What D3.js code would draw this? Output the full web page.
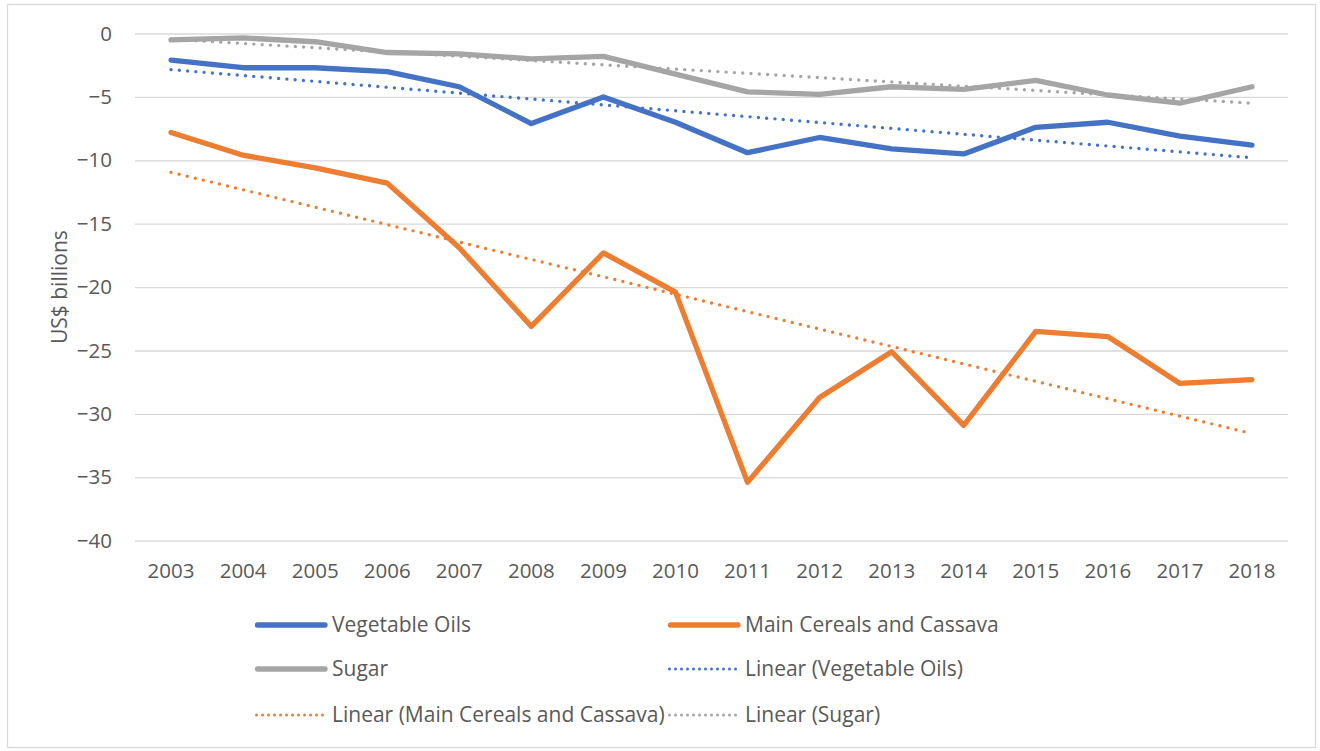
<!DOCTYPE html>
<html>
<head>
<meta charset="utf-8">
<script src="https://cdn.jsdelivr.net/npm/d3@7"></script>
<style>
  body { margin: 0; background: #fff; }
  svg text { font-family: "Open Sans", "Noto Sans", sans-serif; fill: #595959; }
</style>
</head>
<body>
<div id="chart"></div>
<script>
// values (US$ billions)
const years = ["2003", "2004", "2005", "2006", "2007", "2008", "2009", "2010",
               "2011", "2012", "2013", "2014", "2015", "2016", "2017", "2018"];
const vegetableOils = [-2.1, -2.7, -2.7, -3.0, -4.2, -7.1, -5.0, -7.0,
                       -9.4, -8.2, -9.1, -9.5, -7.4, -7.0, -8.1, -8.8];
const mainCereals = [-7.8, -9.6, -10.6, -11.8, -16.9, -23.1, -17.3, -20.4,
                     -35.4, -28.7, -25.1, -30.9, -23.5, -23.9, -27.6, -27.3];
const sugar = [-0.5, -0.35, -0.65, -1.5, -1.6, -2.0, -1.8, -3.2,
               -4.6, -4.8, -4.2, -4.4, -3.7, -4.85, -5.5, -4.2];
// trend line ends (2003, 2018)
const trendVegetableOils = [-2.85, -9.8];
const trendMainCereals = [-10.95, -31.55];
const trendSugar = [-0.45, -5.5];
const yTicks = [0, -5, -10, -15, -20, -25, -30, -35, -40];

const W = 1320, H = 751;
const margin = { top: 33.5, left: 135, right: 32, bottom: 210 };
const plotW = 1288 - margin.left;
const plotH = 540.7 - margin.top;

const blue = "#4472C4", orange = "#ED7D31", gray = "#A5A5A5";

const svg = d3.select("#chart").append("svg")
  .attr("width", W)
  .attr("height", H);

svg.append("rect")
  .attr("x", 7.5).attr("y", 4.5)
  .attr("width", 1308).attr("height", 743)
  .attr("fill", "#fff")
  .attr("stroke", "#D9D9D9")
  .attr("stroke-width", 1.3);

const chart = svg.append("g")
  .attr("transform", `translate(${margin.left}, ${margin.top})`);

const xScale = d3.scaleBand().domain(years).range([0, plotW]);
const yScale = d3.scaleLinear().domain([0, -40]).range([0, plotH]);
const xc = d => xScale(d) + xScale.bandwidth() / 2;

// gridlines + y labels
const yAxis = chart.append("g")
  .attr("class", "axis-y")
  .call(d3.axisLeft(yScale).tickValues(yTicks).tickSize(-plotW).tickPadding(23).tickFormat(d3.format("d")));
yAxis.select(".domain").remove();
yAxis.selectAll(".tick line").attr("stroke", "#D9D9D9").attr("stroke-width", 1.3);
yAxis.selectAll(".tick text").attr("font-size", 20.5).attr("fill", "#595959");

const xAxis = chart.append("g")
  .attr("class", "axis-x")
  .attr("transform", `translate(0, ${plotH})`)
  .call(d3.axisBottom(xScale).tickSize(0).tickPadding(23));
xAxis.select(".domain").remove();
xAxis.selectAll(".tick text").attr("font-size", 20.5).attr("fill", "#595959");

svg.append("text")
  .attr("text-anchor", "middle")
  .attr("transform", `translate(67, ${margin.top + plotH / 2}) rotate(-90)`)
  .attr("font-size", 21)
  .text("US$ billions");

const line = d3.line().x((d, i) => xc(years[i])).y(d => yScale(d));
const trendLine = d3.line().x(d => xc(d[0])).y(d => yScale(d[1]));

const series = [
  { name: "Vegetable Oils", values: vegetableOils, color: blue },
  { name: "Main Cereals and Cassava", values: mainCereals, color: orange },
  { name: "Sugar", values: sugar, color: gray }
];
const trends = [
  { name: "Linear (Vegetable Oils)", ends: trendVegetableOils, color: blue },
  { name: "Linear (Main Cereals and Cassava)", ends: trendMainCereals, color: orange },
  { name: "Linear (Sugar)", ends: trendSugar, color: gray }
];

series.forEach(s => {
  chart.append("path")
    .datum(s.values)
    .attr("fill", "none")
    .attr("stroke", s.color)
    .attr("stroke-width", 5.3)
    .attr("stroke-linejoin", "round")
    .attr("stroke-linecap", "round")
    .attr("d", line);
});

trends.forEach(t => {
  chart.append("path")
    .datum([[years[0], t.ends[0]], [years[years.length - 1], t.ends[1]]])
    .attr("fill", "none")
    .attr("stroke", t.color)
    .attr("stroke-width", 3.4)
    .attr("stroke-linecap", "round")
    .attr("stroke-dasharray", "0 8.3")
    .attr("d", trendLine);
});

// legend
const legendItems = [
  { label: "Vegetable Oils", color: blue, dotted: false },
  { label: "Main Cereals and Cassava", color: orange, dotted: false },
  { label: "Sugar", color: gray, dotted: false },
  { label: "Linear (Vegetable Oils)", color: blue, dotted: true },
  { label: "Linear (Main Cereals and Cassava)", color: orange, dotted: true },
  { label: "Linear (Sugar)", color: gray, dotted: true }
];
const colX = [255, 668];
const rowY = [625, 669, 715];

const legend = svg.append("g").attr("class", "legend");
legendItems.forEach((d, i) => {
  const x = colX[i % 2], y = rowY[Math.floor(i / 2)];
  legend.append("line")
    .attr("x1", x + (d.dotted ? 1.5 : 2.5)).attr("x2", x + 70)
    .attr("y1", y).attr("y2", y)
    .attr("stroke", d.color)
    .attr("stroke-width", d.dotted ? 3 : 5.3)
    .attr("stroke-linecap", "round")
    .attr("stroke-dasharray", d.dotted ? "0 6" : null);
  legend.append("text")
    .attr("x", x + 77).attr("y", y)
    .attr("dy", "0.35em")
    .attr("font-size", 21)
    .text(d.label);
});
</script>
</body>
</html>
